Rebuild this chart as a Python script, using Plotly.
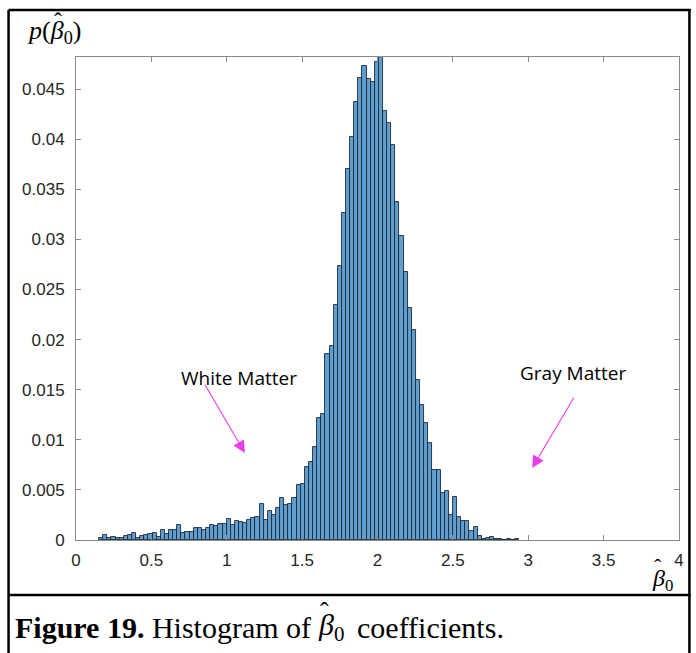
import plotly.graph_objects as go

# ---- data ----
bin_start = 0.153
bin_width = 0.0273
density = [
    0.00023, 0.00047, 0.00017, 0.0003, 0.00017, 0.0002, 0.0004, 0.00045, 0.00065, 0.0002,
    0.0004, 0.0005, 0.0006, 0.0007, 0.0003, 0.001, 0.0006, 0.001, 0.001, 0.0015,
    0.0007, 0.0008, 0.0008, 0.0012, 0.0012, 0.001, 0.0012, 0.0015, 0.0014, 0.0016,
    0.0016, 0.0021, 0.0015, 0.0019, 0.0018, 0.0017, 0.002, 0.0022, 0.0023, 0.0036,
    0.002, 0.0029, 0.0025, 0.0032, 0.0042, 0.0035, 0.0036, 0.0042, 0.0055, 0.0056,
    0.0073, 0.0078, 0.0093, 0.0122, 0.0126,
    0.0186, 0.0194, 0.0235, 0.0273, 0.0326, 0.0370, 0.0402, 0.0437, 0.0461, 0.0473,
    0.0460, 0.0457, 0.0477, 0.0482, 0.0428, 0.0416, 0.0394,
    0.0337, 0.0303, 0.0267, 0.0232, 0.0210, 0.0160, 0.0135, 0.0117, 0.0097, 0.0070,
    0.0070, 0.0047, 0.0049, 0.0025, 0.0043, 0.0023, 0.0019, 0.0019, 0.0009, 0.0013,
    0.0004, 0.00015, 0.0002, 0.0003, 0.0001,
    0.0001, 0.00005, 0.0001, 0.00005, 0.0001,
]
x_ticks = [0, 0.5, 1, 1.5, 2, 2.5, 3, 3.5, 4]
x_ticktext = ["0", "0.5", "1", "1.5", "2", "2.5", "3", "3.5", "4"]
y_ticks = [0, 0.005, 0.01, 0.015, 0.02, 0.025, 0.03, 0.035, 0.04, 0.045]
y_ticktext = ["0", "0.005", "0.01", "0.015", "0.02", "0.025", "0.03", "0.035", "0.04", "0.045"]

centers = [bin_start + (i + 0.5) * bin_width for i in range(len(density))]

W, H = 696, 653
L, R, T, B = 76, 12, 57, 113
PW, PH = W - L - R, H - T - B


def px(xp):
    return (xp - L) / PW


def py(yp):
    return (H - B - yp) / PH


fig = go.Figure()
fig.add_trace(go.Bar(
    x=centers, y=density, width=bin_width,
    marker=dict(color="#5f9fd2", line=dict(color="#1c2a36", width=0.9)),
    showlegend=False, hoverinfo="skip",
))

axis_color = "#8a8a8a"
tick_font = dict(family="Liberation Sans, Arial, sans-serif", size=17, color="#262626")

fig.update_layout(
    width=W, height=H,
    margin=dict(l=L, r=R, t=T, b=B, pad=0),
    paper_bgcolor="white", plot_bgcolor="white",
    bargap=0,
    xaxis=dict(range=[0, 4], tickvals=x_ticks, ticktext=x_ticktext,
               showline=True, linecolor=axis_color, linewidth=1, mirror="ticks",
               ticks="inside", ticklen=5, tickcolor=axis_color, showgrid=False,
               zeroline=False, tickfont=tick_font, ticklabelstandoff=5),
    yaxis=dict(range=[0, 0.0482], tickvals=y_ticks, ticktext=y_ticktext,
               showline=True, linecolor=axis_color, linewidth=1, mirror="ticks",
               ticks="inside", ticklen=5, tickcolor=axis_color, showgrid=False,
               zeroline=False, tickfont=tick_font, ticklabelstandoff=7),
)

serif = "Liberation Serif, Times New Roman, serif"
label_font = "Open Sans, Lato, sans-serif"
magenta = "#e83ee8"


def ptext(x, y, text, size, xanchor="center", yanchor="middle"):
    return dict(x=px(x), y=py(y), xref="paper", yref="paper", showarrow=False,
                xanchor=xanchor, yanchor=yanchor, text=text,
                font=dict(family=serif, size=size, color="black"))


cap = 30
annotations = [
    # y-axis label  p(beta_0) with hat
    ptext(25, 32, "<i>p</i>(<i>β</i><sub>0</sub>)", 26, xanchor="left"),
    ptext(58, 21, "ˆ", 24),
    # x-axis label
    ptext(655, 580, "<i>β</i><sub>0</sub>", 24, xanchor="left"),
    ptext(663, 566, "ˆ", 22),
    # caption
    ptext(12, 627, "<b>Figure 19.</b> Histogram of", cap, xanchor="left"),
    ptext(318, 627, "<i>β</i><sub>0</sub>", cap, xanchor="left"),
    ptext(327, 611, "ˆ", cap - 4),
    ptext(357, 627, "coefficients.", cap, xanchor="left"),
    # region labels
    dict(x=1.08, y=0.01616, xref="x", yref="y", showarrow=False, text="White Matter",
         font=dict(family=label_font, size=19, color="black")),
    dict(x=3.30, y=0.01666, xref="x", yref="y", showarrow=False, text="Gray Matter",
         font=dict(family=label_font, size=19, color="black")),
    # arrows
    dict(x=1.12, y=0.00868, ax=0.849, ay=0.01567, xref="x", yref="y", axref="x", ayref="y",
         text="", showarrow=True, arrowhead=2, arrowsize=2.2, arrowwidth=1.1, arrowcolor=magenta),
    dict(x=3.026, y=0.00718, ax=3.309, ay=0.01437, xref="x", yref="y", axref="x", ayref="y",
         text="", showarrow=True, arrowhead=2, arrowsize=2.2, arrowwidth=1.1, arrowcolor=magenta),
]
fig.update_layout(annotations=annotations)

border = dict(color="black", width=2.5)
shapes = [
    dict(type="line", xref="paper", yref="paper", x0=px(8), x1=px(696), y0=py(10), y1=py(10), line=border),
    dict(type="line", xref="paper", yref="paper", x0=px(8), x1=px(8), y0=py(10), y1=py(653), line=border),
    dict(type="line", xref="paper", yref="paper", x0=px(694.5), x1=px(694.5), y0=py(10), y1=py(653), line=border),
    dict(type="line", xref="paper", yref="paper", x0=px(8), x1=px(696), y0=py(595), y1=py(595), line=border),
]
fig.update_layout(shapes=shapes)

fig.write_html("out.html")
